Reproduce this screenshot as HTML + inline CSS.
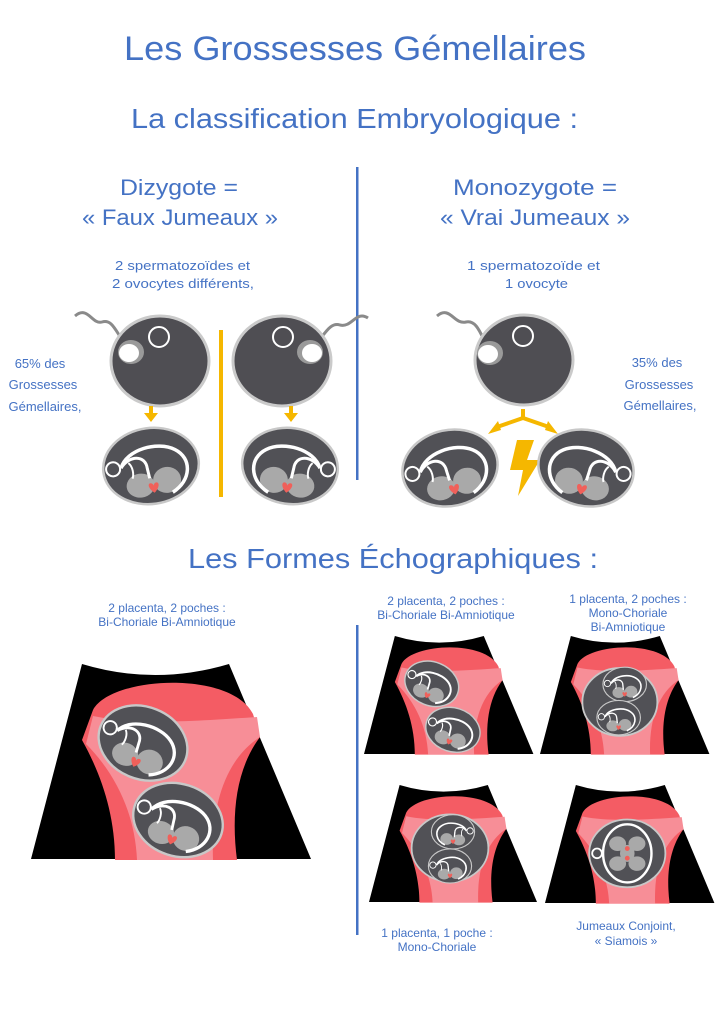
<!DOCTYPE html>
<html><head><meta charset="utf-8"><style>
html,body{margin:0;padding:0;background:#fff;}
svg{display:block;}
text{font-family:"Liberation Sans",Arial,sans-serif;fill:#4472c4;}
</style></head><body>
<svg width="723" height="1023" viewBox="0 0 723 1023" xmlns="http://www.w3.org/2000/svg">
<defs>
  <g id="emb">
    <ellipse rx="48" ry="38" fill="#515156" stroke="#c8c8c8" stroke-width="2.5"/>
    <ellipse cx="-13" cy="18" rx="14" ry="12" fill="#a9a9a9"/>
    <ellipse cx="14" cy="16" rx="14" ry="13" fill="#a9a9a9"/>
    <path d="M-30,-2 C-22,-20 10,-24 26,-13 C42,-2 38,20 18,29" stroke="#fff" stroke-width="3.5" fill="none"/>
    <path d="M-30,-2 C-20,-14 -4,-12 -4,2 L-3,12" stroke="#fff" stroke-width="3" fill="none"/>
    <path d="M-22,-6 C-18,-2 -18,6 -20,10" stroke="#fff" stroke-width="2" fill="none"/>
    <circle cx="-38" cy="-2" r="7" fill="none" stroke="#fff" stroke-width="2"/>
    <path d="M0,27 C-6,22 -6,17 -3,17 C-1,17 0,19 0,20 C0,19 1,17 3,17 C6,17 6,22 0,27Z" fill="#f0605a"/>
  </g>
  <g id="bg">
    <path d="M51,0 Q124,22 198,0 L280,195 L0,195 Z" fill="#000"/>
    <path d="M62,46 C80,12 200,6 222,50 L229,73 C205,105 200,150 206,196 L84,196 C84,150 70,110 51,76 Z" fill="#f45c64"/>
    <path d="M62,52 C110,62 180,56 226,53 L229,73 C195,95 180,140 182,196 L106,196 C104,150 85,110 55,80 Z" fill="#f78e97"/>
  </g>
</defs>

<!-- headings -->
<text x="124" y="60" font-size="34" textLength="462" lengthAdjust="spacingAndGlyphs">Les Grossesses Gémellaires</text>
<text x="131" y="128" font-size="28" textLength="447" lengthAdjust="spacingAndGlyphs">La classification Embryologique :</text>
<text x="120" y="195" font-size="22" textLength="118" lengthAdjust="spacingAndGlyphs">Dizygote =</text>
<text x="82" y="225" font-size="22" textLength="196" lengthAdjust="spacingAndGlyphs">« Faux Jumeaux »</text>
<text x="453" y="195" font-size="22" textLength="164" lengthAdjust="spacingAndGlyphs">Monozygote =</text>
<text x="440" y="225" font-size="22" textLength="190" lengthAdjust="spacingAndGlyphs">« Vrai Jumeaux »</text>
<text x="115" y="270" font-size="13" textLength="135" lengthAdjust="spacingAndGlyphs">2 spermatozoïdes et</text>
<text x="112" y="288" font-size="13" textLength="142" lengthAdjust="spacingAndGlyphs">2 ovocytes différents,</text>
<text x="467" y="270" font-size="13" textLength="133" lengthAdjust="spacingAndGlyphs">1 spermatozoïde et</text>
<text x="505" y="288" font-size="13" textLength="63" lengthAdjust="spacingAndGlyphs">1 ovocyte</text>
<g font-size="13" text-anchor="middle">
<text x="40" y="368">65% des</text><text x="43" y="389">Grossesses</text><text x="45" y="411">Gémellaires,</text>
<text x="657" y="367">35% des</text><text x="659" y="389">Grossesses</text><text x="660" y="410">Gémellaires,</text>
</g>
<rect x="356" y="167" width="2.5" height="313" fill="#4472c4"/>
<rect x="219" y="330" width="4" height="167" fill="#f5b700"/>

<!-- eggs -->
<g stroke="#8a8a8a" stroke-width="3" fill="none">
<path d="M75,316 C88,305 92,325 102,322 C112,319 115,330 125,344"/>
<path d="M368,318 C356,310 352,328 340,325 C330,322 325,334 316,344"/>
<path d="M437,316 C450,305 454,325 466,322 C476,320 480,332 486,344"/>
</g>
<g fill="#4f4e53" stroke="#cacaca" stroke-width="3">
<ellipse cx="160" cy="361" rx="49" ry="45"/>
<ellipse cx="282" cy="361" rx="49" ry="45"/>
<ellipse cx="524" cy="360" rx="49" ry="45"/>
</g>
<g fill="#9a9a9a"><ellipse cx="131" cy="352" rx="13" ry="12"/><ellipse cx="310" cy="352" rx="13" ry="12"/><ellipse cx="490" cy="353" rx="13" ry="12"/></g>
<g fill="#fff"><ellipse cx="129" cy="353" rx="10" ry="9"/><ellipse cx="312" cy="353" rx="10" ry="9"/><ellipse cx="488" cy="354" rx="10" ry="9"/></g>
<g fill="none" stroke="#fff" stroke-width="2"><circle cx="159" cy="337" r="10"/><circle cx="283" cy="337" r="10"/><circle cx="523" cy="336" r="10"/></g>

<!-- arrows -->
<g fill="#f5b700">
<rect x="149" y="406" width="4" height="8"/><polygon points="144,413 158,413 151,422"/>
<rect x="289" y="406" width="4" height="8"/><polygon points="284,413 298,413 291,422"/>
<rect x="521" y="409" width="4" height="9"/>
<polygon points="517,440 534,440 527,460 540,460 518,496 523,470 510,470"/>
<polygon points="488,434 498,421 501,430"/><polygon points="558,434 548,421 545,430"/>
</g>
<path d="M497,427 L523,418 L549,427" stroke="#f5b700" stroke-width="4" fill="none"/>

<use href="#emb" transform="translate(151,466) rotate(-8)"/>
<use href="#emb" transform="translate(290,466) rotate(8) scale(-1,1)"/>
<use href="#emb" transform="translate(450,468) rotate(-12)"/>
<use href="#emb" transform="translate(586,468) rotate(12) scale(-1,1)"/>

<!-- section 2 -->
<text x="188" y="568" font-size="28" textLength="410" lengthAdjust="spacingAndGlyphs">Les Formes Échographiques :</text>
<g font-size="12" text-anchor="middle">
<text x="167" y="612">2 placenta, 2 poches :</text><text x="167" y="626">Bi-Choriale Bi-Amniotique</text>
<text x="446" y="605">2 placenta, 2 poches :</text><text x="446" y="619">Bi-Choriale Bi-Amniotique</text>
<text x="628" y="603">1 placenta, 2 poches :</text><text x="628" y="617">Mono-Choriale</text><text x="628" y="631">Bi-Amniotique</text>
<text x="437" y="937">1 placenta, 1 poche :</text><text x="437" y="951">Mono-Choriale</text>
<text x="626" y="930">Jumeaux Conjoint,</text><text x="626" y="945">« Siamois »</text>
</g>
<rect x="356" y="625" width="2.5" height="310" fill="#4472c4"/>

<!-- big panel -->
<g transform="translate(31,664)">
  <use href="#bg"/>
  <use href="#emb" transform="translate(112,79) rotate(22) scale(0.95)"/>
  <use href="#emb" transform="translate(147,156) rotate(18) scale(0.95)"/>
</g>
<g transform="translate(364,636) scale(0.605)">
  <use href="#bg"/>
  <use href="#emb" transform="translate(112,79) rotate(22) scale(0.95)"/>
  <use href="#emb" transform="translate(147,155) rotate(18) scale(0.95)"/>
</g>
<g transform="translate(540,636) scale(0.605)">
  <use href="#bg"/>
  <ellipse cx="132" cy="109" rx="62" ry="56" fill="#515156" stroke="#c8c8c8" stroke-width="3"/>
  <use href="#emb" transform="translate(140,80) scale(0.75)"/>
  <use href="#emb" transform="translate(130,135) scale(0.75)"/>
</g>
<g transform="translate(369,785) scale(0.6)">
  <use href="#bg"/>
  <ellipse cx="135" cy="105" rx="64" ry="56" fill="#515156" stroke="#c8c8c8" stroke-width="3"/>
  <use href="#emb" transform="translate(140,78) scale(0.75) rotate(180) scale(1,-1)"/>
  <use href="#emb" transform="translate(135,135) scale(0.75)"/>
</g>
<g transform="translate(545,785) scale(0.605)">
  <use href="#bg"/>
  <ellipse cx="136" cy="113" rx="63" ry="56" fill="#515156" stroke="#c8c8c8" stroke-width="3"/>
  <ellipse cx="136" cy="113" rx="40" ry="48" fill="none" stroke="#fff" stroke-width="4"/>
  <circle cx="86" cy="113" r="8" fill="none" stroke="#fff" stroke-width="3"/>
  <ellipse cx="120" cy="97" rx="14" ry="12" fill="#a9a9a9"/><ellipse cx="152" cy="97" rx="14" ry="12" fill="#a9a9a9"/>
  <ellipse cx="120" cy="130" rx="14" ry="12" fill="#a9a9a9"/><ellipse cx="152" cy="130" rx="14" ry="12" fill="#a9a9a9"/>
  <ellipse cx="136" cy="113" rx="12" ry="14" fill="#a9a9a9"/>
  <circle cx="136" cy="105" r="4" fill="#f0605a"/><circle cx="136" cy="121" r="4" fill="#f0605a"/>
</g>
</svg>
</body></html>
